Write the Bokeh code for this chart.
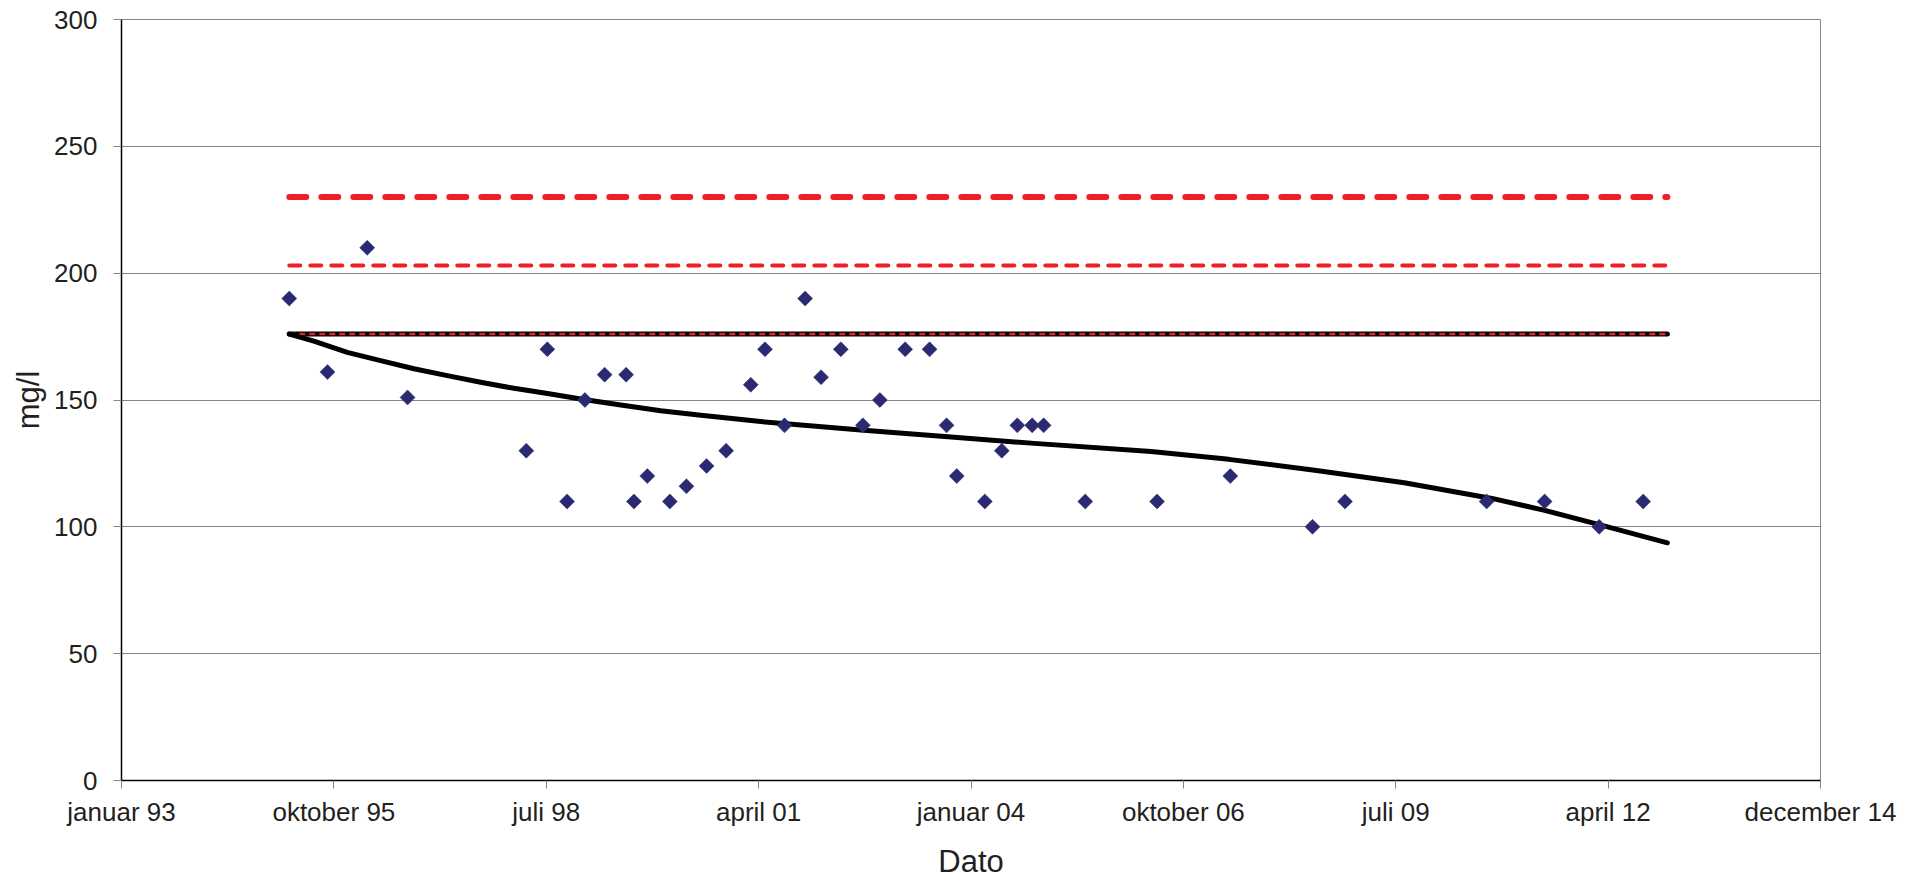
import pandas as pd
from bokeh.plotting import figure
from bokeh.models import Range1d, FixedTicker
from bokeh.embed import file_html
from bokeh.resources import INLINE

# ---- data ----
sample_dates = [
    "1995-03-02", "1995-08-29", "1996-03-03", "1996-09-09", "1998-03-22", "1998-06-29",
    "1998-09-30", "1998-12-23", "1999-03-26", "1999-07-05", "1999-08-11", "1999-10-13",
    "2000-01-27", "2000-04-14", "2000-07-18", "2000-10-18", "2001-02-11", "2001-04-19",
    "2001-07-20", "2001-10-25", "2002-01-08", "2002-04-11", "2002-07-24", "2002-10-12",
    "2003-02-08", "2003-06-03", "2003-08-22", "2003-10-09", "2004-02-18", "2004-05-08",
    "2004-07-20", "2004-09-28", "2004-11-21", "2005-06-05", "2006-05-09", "2007-04-19",
    "2008-05-10", "2008-10-10", "2010-08-08", "2011-05-08", "2012-01-20", "2012-08-14",
]
sample_values = [
    190, 161, 210, 151, 130, 170,
    110, 150, 160, 160, 110, 120,
    110, 116, 124, 130, 156, 170,
    140, 190, 159, 170, 140, 150,
    170, 170, 140, 120, 110, 130,
    140, 140, 140, 110, 110, 120,
    100, 110, 110, 110, 100, 110,
]

trend_dates = [
    "1995-03-02", "1995-06-26", "1995-11-30", "1996-05-05", "1996-10-09", "1997-03-15",
    "1997-08-19", "1998-01-23", "1998-06-30", "1998-12-03", "1999-06-10", "1999-12-15",
    "2000-06-21", "2001-03-30", "2002-07-14", "2003-09-12", "2004-10-08", "2006-04-11",
    "2007-04-12", "2008-05-29", "2009-07-16", "2010-09-02", "2011-05-08", "2012-01-20",
    "2012-12-06",
]
trend_values = [
    176, 173.2, 168.8, 165.5, 162.3, 159.6,
    157.0, 154.6, 152.6, 150.4, 148.0, 145.8,
    144.0, 141.5, 138.2, 135.4, 132.9, 129.7,
    126.6, 122.2, 117.4, 111.2, 106.5, 100.9,
    93.7,
]

limit_high = 230
limit_mid = 203
limit_base = 176
limit_span = ["1995-03-02", "2012-12-06"]

axis_start = "1993-01-01"
axis_step_days = 1000
x_tick_labels = ["januar 93", "oktober 95", "juli 98", "april 01", "januar 04",
                 "oktober 06", "juli 09", "april 12", "december 14"]
y_ticks = [0, 50, 100, 150, 200, 250, 300]

EPOCH = pd.Timestamp("1970-01-01")


def to_days(s):
    return float((pd.Timestamp(s) - EPOCH).days)


xs = [to_days(d) for d in sample_dates]
txs = [to_days(d) for d in trend_dates]
lx = [to_days(d) for d in limit_span]
x0 = to_days(axis_start)
x_ticks = [x0 + i * axis_step_days for i in range(len(x_tick_labels))]

FONT = "Liberation Sans"
TXT = "#231f20"
GRID = "#868686"
RED = "#ee1f26"

p = figure(width=1919, height=882, output_backend="svg", toolbar_location=None,
           x_range=Range1d(x_ticks[0], x_ticks[-1]), y_range=Range1d(0, 300),
           min_border_left=121, min_border_right=99, min_border_top=19, min_border_bottom=102)
p.background_fill_color = "white"
p.border_fill_color = "white"
p.outline_line_color = GRID
p.outline_line_width = 1

# axes
p.xaxis.ticker = FixedTicker(ticks=x_ticks)
p.xaxis.major_label_overrides = {t: lab for t, lab in zip(x_ticks, x_tick_labels)}
p.yaxis.ticker = FixedTicker(ticks=y_ticks)
for ax in (p.xaxis, p.yaxis):
    ax.axis_line_color = "black"
    ax.axis_line_width = 1.5
    ax.major_tick_line_color = GRID
    ax.major_tick_in = 0
    ax.major_tick_out = 8
    ax.minor_tick_line_color = None
    ax.major_label_text_font = FONT
    ax.major_label_text_font_size = "26px"
    ax.major_label_text_color = TXT
    ax.axis_label_text_font = FONT
    ax.axis_label_text_font_size = "31px"
    ax.axis_label_text_font_style = "normal"
    ax.axis_label_text_color = TXT
p.xaxis.axis_label = "Dato"
p.yaxis.axis_label = "mg/l"
p.xaxis.major_label_standoff = 8
p.yaxis.major_label_standoff = 16
p.xaxis.axis_label_standoff = 14
p.yaxis.axis_label_standoff = 5

p.xgrid.grid_line_color = None
p.ygrid.grid_line_color = GRID
p.ygrid.grid_line_width = 1

# reference lines
p.line(lx, [limit_high, limit_high], line_color=RED, line_width=6,
       line_dash="17 15", line_cap="round")
p.line(lx, [limit_mid, limit_mid], line_color=RED, line_width=4,
       line_dash="11 10", line_cap="round")
p.line(lx, [limit_base, limit_base], line_color="black", line_width=5, line_cap="round")
p.line(lx, [limit_base, limit_base], line_color=RED, line_width=2.5, line_dash="6 4")

# trend
p.line(txs, trend_values, line_color="black", line_width=5, line_cap="round", line_join="round")

# samples
p.scatter(xs, sample_values, marker="square", size=10.6, angle=0.785398,
          fill_color="#2a2a72", line_color="#2a2a72", line_width=0.5)

open("out.html", "w").write(file_html(p, INLINE))
